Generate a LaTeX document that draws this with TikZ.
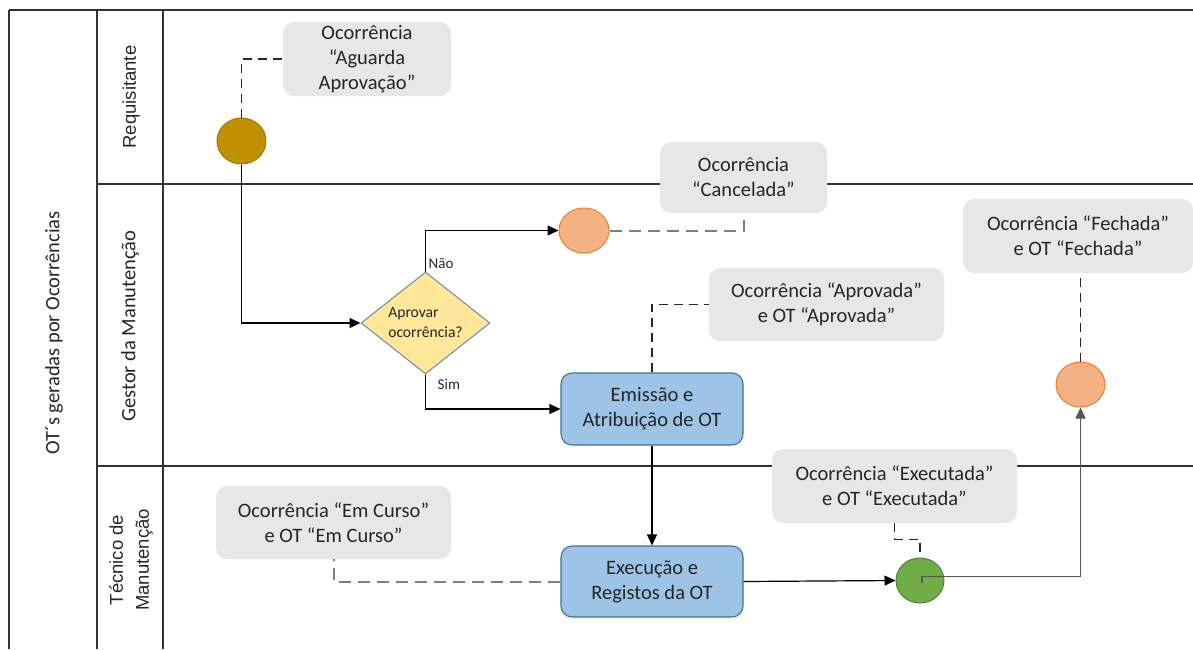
\documentclass[tikz,border=0pt]{standalone}
\usepackage{fontspec}
\setmainfont{Carlito}
\newfontfamily\arialf{Liberation Sans}
\usetikzlibrary{arrows.meta,shapes.geometric}

\definecolor{notefill}{RGB}{231,231,231}
\definecolor{taskfill}{RGB}{157,195,230}
\definecolor{taskdraw}{RGB}{65,113,156}
\definecolor{decfill}{RGB}{255,230,153}
\definecolor{decdraw}{RGB}{110,135,175}
\definecolor{startfill}{RGB}{191,144,0}
\definecolor{startdraw}{RGB}{160,120,0}
\definecolor{endfill}{RGB}{244,177,131}
\definecolor{enddraw}{RGB}{237,125,49}
\definecolor{midfill}{RGB}{112,173,71}
\definecolor{middraw}{RGB}{80,126,50}
\definecolor{txt}{RGB}{38,38,38}
\definecolor{lanegray}{RGB}{50,50,50}
\definecolor{linkgray}{RGB}{127,127,127}
\definecolor{flowgray}{RGB}{85,85,85}

\tikzset{
  every node/.style={text=txt},
  lane/.style={draw=lanegray, line width=1.5pt},
  note/.style={fill=notefill, rounded corners=11pt, align=center, inner sep=0pt,
    font=\fontsize{20.5}{25}\selectfont},
  task/.style={fill=taskfill, draw=taskdraw, line width=1.1pt, rounded corners=11pt,
    align=center, inner sep=0pt, minimum width=182pt, minimum height=72pt,
    font=\fontsize{20.5}{25}\selectfont},
  event/.style={ellipse, inner sep=0pt, line width=1pt},
  decision/.style={diamond, fill=decfill, draw=decdraw, line width=1pt, inner sep=0pt,
    shape aspect=1.265, minimum width=129pt, minimum height=102pt, align=left,
    font=\fontsize{15.6}{20}\selectfont},
  flow/.style={draw=black, line width=1.2pt, -{Triangle[length=11pt,width=10pt]}},
  assoc/.style={draw=black!85, line width=1.2pt, dash pattern=on 9pt off 6pt},
  assocgray/.style={draw=linkgray, line width=2pt, dash pattern=on 12pt off 7pt},
  tag/.style={font=\fontsize{15}{18}\selectfont, inner sep=0pt},
}

\begin{document}
\begin{tikzpicture}[x=1pt, y=-1pt]
\useasboundingbox (0,0) rectangle (1193,649);

% pool and lanes
\draw[lane, line width=2pt] (9,10) -- (1193,10);
\draw[lane] (9,10) -- (9,649);
\draw[lane] (97,10) -- (97,649);
\draw[lane] (163,10) -- (163,649);
\draw[lane] (97,184) -- (1193,184);
\draw[lane] (97,466) -- (1193,466);

\node[rotate=90, font=\fontsize{20.5}{25}\selectfont] (pool) at (54,333) {OT´s geradas por Ocorrências};
\node[rotate=90, font=\arialf\fontsize{18.5}{22}\selectfont] (lreq) at (131,97) {Requisitante};
\node[rotate=90, font=\fontsize{20.5}{25}\selectfont] (lges) at (130,326) {Gestor da Manutenção};
\node[rotate=90, align=center, font=\arialf\fontsize{18.5}{26}\selectfont] (ltec) at (131,560) {Técnico de\\Manutenção};

% flow objects
\node[event, fill=startfill, draw=startdraw, minimum width=49pt, minimum height=46pt] (start) at (241.5,141) {};
\node[decision] (dec) at (425.5,323) {Aprovar\\ocorrência?};
\node[event, fill=endfill, draw=enddraw, minimum width=50pt, minimum height=45pt] (cancel) at (584,230.5) {};
\node[task] (emis) at (652,409) {Emissão e\\Atribuição de OT};
\node[task, minimum height=71pt] (exec) at (652,581.5) {Execução e\\Registos da OT};
\node[event, fill=midfill, draw=middraw, minimum width=48pt, minimum height=45pt] (done) at (920,580.5) {};
\node[event, fill=endfill, draw=enddraw, minimum width=49pt, minimum height=45pt] (close) at (1080.5,384.5) {};

% annotations
\node[note, minimum width=168pt, minimum height=74pt] (nagu) at (367,59) {Ocorrência\\“Aguarda\\Aprovação”};
\node[note, minimum width=167pt, minimum height=71pt] (ncan) at (743.5,177.5) {Ocorrência\\“Cancelada”};
\node[note, minimum width=235pt, minimum height=73pt] (napr) at (826.5,304.5) {Ocorrência “Aprovada”\\e OT “Aprovada”};
\node[note, minimum width=230pt, minimum height=74pt] (nfec) at (1078,236) {Ocorrência “Fechada”\\e OT “Fechada”};
\node[note, minimum width=235pt, minimum height=73pt] (ncur) at (333.5,522.5) {Ocorrência “Em Curso”\\e OT “Em Curso”};
\node[note, minimum width=245pt, minimum height=74pt] (nexe) at (894.5,486) {Ocorrência “Executada”\\e OT “Executada”};

% sequence flows
\draw[flow] (start) |- (dec.west);
\draw[flow] (dec.north) |- (cancel.west);
\draw[flow] (dec.south) |- (emis.west);
\draw[flow] (emis.south) -- (exec.north);
\draw[flow] (exec.east) -- (done.west);
\draw[flow, draw=flowgray, line width=1.8pt] ([xshift=2pt,yshift=-2pt]done.center) -- ([xshift=2pt,yshift=4pt]done.center) -| (close.south);

\node[tag, anchor=south west] (tno) at ([xshift=3pt,yshift=3pt]dec.north) {Não};
\node[tag, anchor=north west] (tyes) at ([xshift=12pt,yshift=-4pt]dec.south) {Sim};

% associations
\draw[assoc] (start.north) |- (nagu.west);
\draw[assocgray] (cancel.east) -| (ncan.south);
\draw[assoc] (emis.north) |- (napr.west);
\draw[assocgray] (exec.west) -| (ncur.south);
\draw[assoc] (nexe.south) -- ++(0,16) -| (done.north);
\draw[assoc] (close.north) -- (close.north |- nfec.south);
\end{tikzpicture}
\end{document}
